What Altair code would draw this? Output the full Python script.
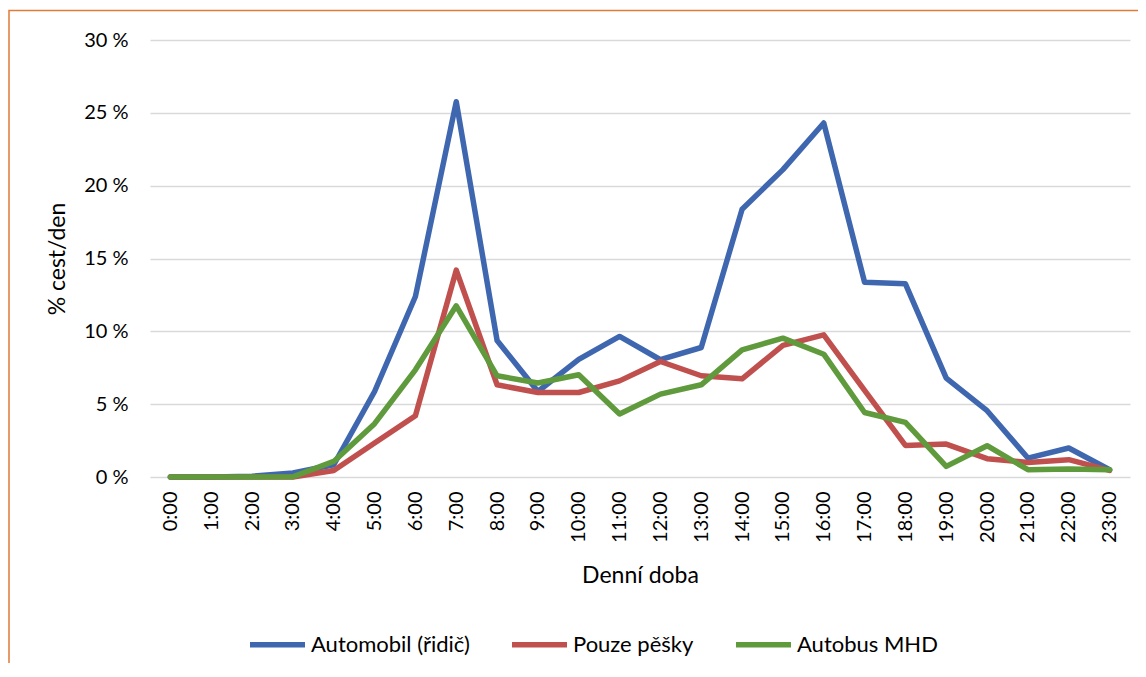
import altair as alt
import pandas as pd

hours = [f"{h}:00" for h in range(24)]
auto = [0, 0, 0.05, 0.27, 0.84, 5.87, 12.39, 25.76, 9.37, 5.87, 8.08, 9.65,
        8.05, 8.89, 18.38, 21.1, 24.3, 13.37, 13.26, 6.79, 4.55, 1.3, 1.99, 0.5]
pesky = [0, 0, 0, 0, 0.45, 2.33, 4.2, 14.2, 6.33, 5.8, 5.8, 6.6,
         7.93, 6.95, 6.74, 9.03, 9.76, 5.95, 2.17, 2.26, 1.26, 1.0, 1.19, 0.45]
mhd = [0, 0, 0, 0.02, 1.07, 3.66, 7.36, 11.75, 6.95, 6.45, 7.02, 4.32,
       5.69, 6.33, 8.73, 9.53, 8.43, 4.43, 3.75, 0.73, 2.15, 0.5, 0.55, 0.5]

series_names = ["Automobil (řidič)", "Pouze pěšky", "Autobus MHD"]
series_colors = ["#3F67AF", "#C0504D", "#5F9A3C"]

rows = []
for name, vals in zip(series_names, [auto, pesky, mhd]):
    for i, (h, v) in enumerate(zip(hours, vals)):
        rows.append({"hodina": h, "pct": v, "serie": name, "order": series_names.index(name)})
df = pd.DataFrame(rows)

FONT = "Lato"

lines = alt.Chart(df).mark_line(strokeWidth=5.5, strokeJoin="round", strokeCap="round").encode(
    x=alt.X("hodina:O", sort=hours, scale=alt.Scale(padding=0.5),
            axis=alt.Axis(title="Denní doba", labelAngle=270, labelAlign="right",
                          labelBaseline="middle", labelPadding=14, labelFontSize=20,
                          labelFont=FONT, labelColor="#000000", ticks=False, domain=False,
                          grid=False, titleFont=FONT, titleFontSize=23, titleFontWeight="normal",
                          titleColor="#000000", titleY=98, titleBaseline="middle")),
    y=alt.Y("pct:Q", scale=alt.Scale(domain=[0, 30], nice=False),
            axis=alt.Axis(title="% cest/den", values=[0, 5, 10, 15, 20, 25, 30],
                          labelExpr="datum.value + ' %'", labelFontSize=20, labelFont=FONT,
                          labelColor="#000000", labelPadding=22, ticks=False, domain=False,
                          grid=True, gridColor="#D9D9D9", gridWidth=1.5,
                          titleFont=FONT, titleFontSize=23, titleFontWeight="normal",
                          titleColor="#000000", titleX=-93, titleY=218.5, titleAngle=270,
                          titleAlign="center", titleBaseline="middle")),
    color=alt.Color("serie:N", sort=series_names,
                    scale=alt.Scale(domain=series_names, range=series_colors),
                    legend=alt.Legend(title=None, orient="none", direction="horizontal",
                                      legendX=97, legendY=574, symbolType="stroke",
                                      symbolSize=3025, symbolStrokeWidth=5.5,
                                      labelFontSize=22, labelFont=FONT, labelColor="#000000",
                                      labelOffset=3, columnPadding=31, labelLimit=400)),
    order="order:Q",
)

border = alt.Chart(pd.DataFrame({"b": [0]})).mark_rect(
    fill=None, stroke="#E07B39", strokeWidth=1.5, clip=False
).encode(
    x=alt.value(-141), x2=alt.value(1200), y=alt.value(-29.5), y2=alt.value(900)
)

chart = alt.layer(border, lines).properties(
    width=980, height=437,
    padding={"left": 142, "top": 32, "right": 8, "bottom": 186},
    autosize=alt.AutoSizeParams(type="none"),
).configure_view(stroke=None)

chart.save("out.html", embed_options={"renderer": "svg", "actions": False})
